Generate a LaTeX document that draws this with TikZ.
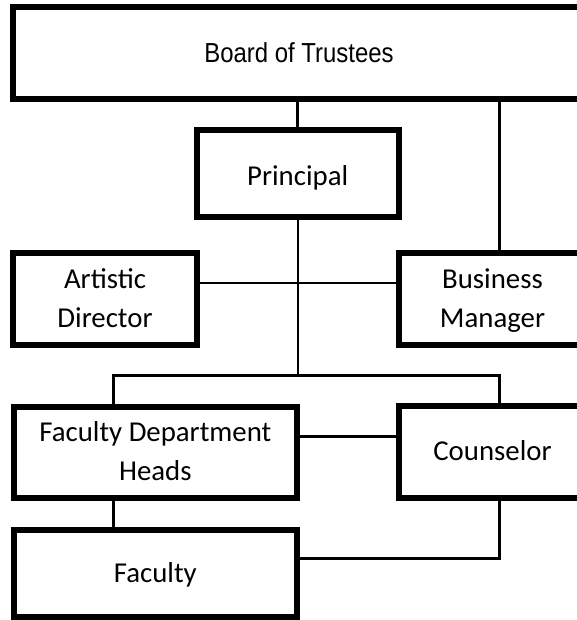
\documentclass[tikz,border=0pt]{standalone}
\usepackage{fontspec}
\setmainfont{Carlito}
\newfontfamily\boardfont[FakeStretch=0.87]{Liberation Sans}
% two centred lines, the box's baseline is the last line's baseline
\newcommand\twolines[2]{\vbox{\baselineskip=39pt\lineskiplimit=-100pt\halign{\hfil##\hfil\cr#1\cr#2\cr}}}
% put text with its (last) baseline a given distance below the box centre
\newcommand\boxtext[2]{\raisebox{-#1pt}[0pt][0pt]{#2}}
\tikzset{
  orgbox/.style={draw=black, line width=6pt, fill=white, rectangle, inner sep=0pt,
    font=\fontsize{28.8}{39}\selectfont},
  link/.style={draw=black, line width=2.7pt}
}
\begin{document}
\begin{tikzpicture}[x=1pt, y=-1pt]
  \useasboundingbox (0,0) rectangle (577,620);
  \fill[white] (0,0) rectangle (577,620);
  \clip (0,0) rectangle (577,620);

  % boxes
  \node[orgbox, minimum width=572pt, minimum height=91.7pt, font=\boardfont\fontsize{27.5}{33}\selectfont]
    (board) at (299,52.85) {\boxtext{9.45}{Board of Trustees}};
  \node[orgbox, minimum width=202pt, minimum height=86.7pt]
    (principal) at (297.7,173.35) {\boxtext{12.6}{Principal}};
  \node[orgbox, minimum width=184pt, minimum height=91.7pt]
    (artistic) at (105,298.85) {\boxtext{28.5}{\twolines{Artistic}{Director}}};
  \node[orgbox, minimum width=187pt, minimum height=91.7pt]
    (business) at (492.5,298.85) {\boxtext{28.5}{\twolines{Business}{Manager}}};
  \node[orgbox, minimum width=283.3pt, minimum height=91pt]
    (heads) at (155.35,452.5) {\boxtext{28.2}{\twolines{Faculty Department}{Heads}}};
  \node[orgbox, minimum width=187pt, minimum height=91.7pt]
    (counselor) at (492.5,452.15) {\boxtext{8.5}{Counselor}};
  \node[orgbox, minimum width=283.3pt, minimum height=87.3pt]
    (faculty) at (155.35,573.35) {\boxtext{9.4}{Faculty}};

  % junction points of the connectors
  \coordinate (lbranch) at (113.7,375.3);
  \coordinate (mbranch) at (298,375.3);
  \coordinate (rbranch) at (499.7,375.3);
  \coordinate (staffrow) at (298,283);
  \coordinate (headsrow) at (348,436.7);
  \coordinate (facultyrow) at (400,558.7);

  % connectors
  \draw[link] (board.south -| principal.north) -- (principal.north);
  \draw[link] (board.south -| rbranch) -- (business.north -| rbranch);
  \draw[link] (principal.south -| mbranch) -- (mbranch);
  \draw[link] (artistic.east |- staffrow) -- (business.west |- staffrow);
  \draw[link] (heads.north -| lbranch) -- (lbranch) -- (rbranch) -- (counselor.north -| rbranch);
  \draw[link] (heads.east |- headsrow) -- (counselor.west |- headsrow);
  \draw[link] (heads.south -| lbranch) -- (faculty.north -| lbranch);
  \draw[link] (counselor.south -| rbranch) |- (faculty.east |- facultyrow);
\end{tikzpicture}
\end{document}
